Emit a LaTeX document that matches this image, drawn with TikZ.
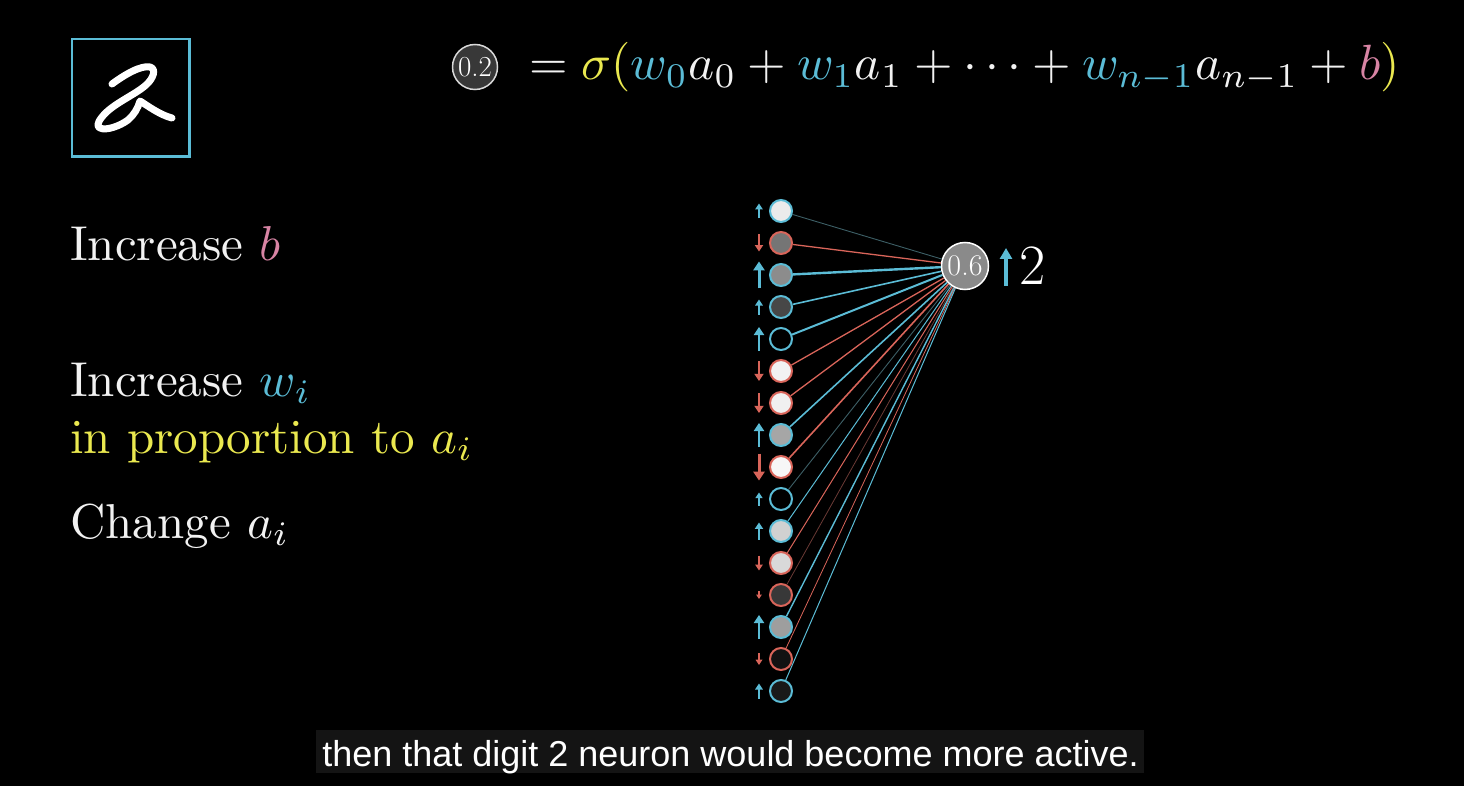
\documentclass[tikz,border=0pt]{standalone}
\usepackage{amsmath}
\usepackage{graphicx}
\usepackage{fontspec}
\newfontfamily\capfont{Liberation Sans}
\usepackage{tikz}
\usetikzlibrary{arrows.meta}
\usepackage{xcolor}
\definecolor{wblue}{HTML}{5BBCD6}
\definecolor{ered}{HTML}{D9655A}
\definecolor{edim}{HTML}{3D5F66}
\definecolor{rdim}{HTML}{6A3A35}
\definecolor{bpink}{HTML}{D884A4}
\definecolor{pyellow}{HTML}{EAE84F}
\definecolor{txtwhite}{HTML}{F2F2F2}
\definecolor{capbg}{HTML}{141414}
\newcommand\txtbig[1]{\scalebox{4.9}{\fontsize{10}{12}\selectfont #1}}
\pgfdeclarelayer{bg}
\pgfdeclarelayer{edges}
\pgfsetlayers{bg,edges,main}

\begin{document}
\begin{tikzpicture}[x=1pt,y=-1pt,
  neuron/.style={circle,minimum size=22pt,inner sep=0pt,line width=2pt},
  label/.style={anchor=base west,inner sep=0pt,text=txtwhite}]
  \begin{pgfonlayer}{bg}
    \useasboundingbox (0,0) rectangle (1464,786);
    \fill[black] (0,0) rectangle (1464,786);
  \end{pgfonlayer}

  % the input image
  \node[draw=wblue,line width=2.5pt,minimum size=117.5pt] (digitbox) at (130.5,98) {};
  \draw[white,line width=7pt,line cap=round,line join=round]
    (112,84) .. controls (124,75) and (141,65) .. (150,67) .. controls (157,69) and (153,79) .. (146,85)
    .. controls (135,95) and (112,104) .. (102,117) .. controls (97,123) and (97,127) .. (100,128)
    .. controls (106,131) and (120,126) .. (128,120) .. controls (134,115) and (138,108) .. (140,101)
    .. controls (148,106) and (160,115) .. (172,118);

  % equation
  \node[circle,draw=white!85!black,fill=white!22!black,line width=1.5pt,minimum size=45pt,inner sep=0pt,
        text=white,font=\fontsize{29}{29}\selectfont] (act) at (475,67) {0.2};
  \node[label] (eq) at (529,80)
    {\scalebox{4.95}{\fontsize{10}{12}\selectfont$=\textcolor{pyellow}{\sigma(}\textcolor{wblue}{w_0}a_0+\textcolor{wblue}{w_1}a_1+\cdots+\textcolor{wblue}{w_{n-1}}a_{n-1}+\textcolor{bpink}{b}\textcolor{pyellow}{)}$}};

  % what can change
  \node[label] (incb) at (70,261) {\txtbig{Increase \textcolor{bpink}{$b$}}};
  \node[label] (incw) at (70,396) {\txtbig{Increase \textcolor{wblue}{$w_i$}}};
  \node[label,text=pyellow] (prop) at (70,453) {\txtbig{in proportion to $a_i$}};
  \node[label] (chg) at (70,538) {\txtbig{Change $a_i$}};

  % output neuron
  \node[circle,draw=white,fill=white!54!black,line width=1.5pt,minimum size=47pt,inner sep=0pt,
        text=white,font=\fontsize{30}{30}\selectfont] (out) at (965,266) {0.6};
  \draw[wblue,line width=3.2pt,-{Triangle[width=12pt,length=11pt]}] (1006,286) -- (1006,248);
  \node[anchor=base west,inner sep=0pt,text=white,font=\fontsize{57}{57}\selectfont] (two) at (1019,285) {2};

  % input neurons, nudges and weights
  \foreach \k/\g/\c/\d/\len/\ec/\ew in {
      1/92/wblue/1/15/edim/0.9, 2/46/ered/-1/17/ered/1.3, 3/55/wblue/1/27/wblue/2.4,
      4/28/wblue/1/15/wblue/1.6, 5/0/wblue/1/24/wblue/2.0, 6/95/ered/-1/20/ered/1.3,
      7/94/ered/-1/20/ered/1.3, 8/65/wblue/1/24/wblue/1.6, 9/97/ered/-1/27/ered/1.6,
      10/0/wblue/1/13/edim/0.9, 11/82/wblue/1/17/wblue/1.0, 12/85/ered/-1/15/ered/1.0,
      13/22/ered/-1/8/rdim/0.8, 14/62/wblue/1/24/wblue/1.4, 15/7/ered/-1/12/ered/0.8,
      16/10/wblue/1/15/wblue/1.0}{
    \pgfmathsetmacro\ny{211+32*(\k-1)}
    \pgfmathsetmacro\lw{min(3,1+0.075*\len)}
    \pgfmathsetmacro\tw{0.3*\len+3}
    \pgfmathsetmacro\tl{0.8*\tw}
    \node[neuron,draw=\c,fill=white!\g!black] (n\k) at (781,\ny) {};
    \draw[\c,line width=\lw pt,-{Triangle[width=\tw pt,length=\tl pt]}]
      (759,{\ny+\d*\len/2}) -- (759,{\ny-\d*\len/2});
    \begin{pgfonlayer}{edges}
      \draw[\ec,line width=\ew pt] (n\k) -- (out);
    \end{pgfonlayer}
  }

  % subtitle
  \node[fill=capbg,minimum width=828pt,minimum height=43pt,inner sep=0pt] (capbox) at (730,751.5) {};
  \node[anchor=base,inner sep=0pt,text=white,font=\capfont\fontsize{36}{36}\selectfont] (captext) at (730.5,766.5)
    {then that digit 2 neuron would become more active.};
\end{tikzpicture}
\end{document}
